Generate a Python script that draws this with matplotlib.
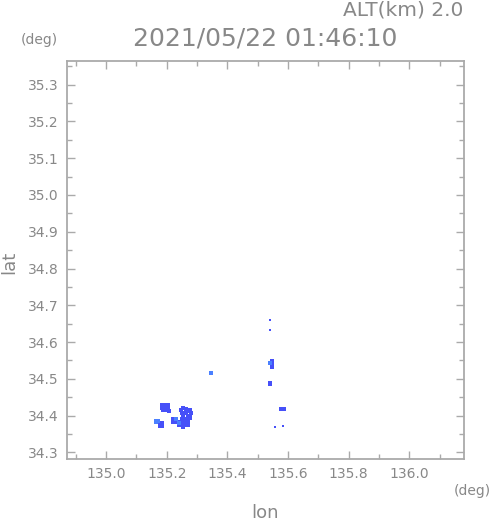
import matplotlib
matplotlib.use("Agg")
import matplotlib.pyplot as plt
from matplotlib.ticker import MultipleLocator

# ---- data (lon, lat of echo cells) ----
dark_lon = [135.183, 135.193, 135.203, 135.183, 135.193, 135.203, 135.188, 135.198, 135.208,
            135.178, 135.186, 135.178, 135.186,
            135.220, 135.250, 135.260, 135.270, 135.277,
            135.220, 135.230, 135.240, 135.250, 135.260, 135.270,
            135.240, 135.250, 135.260, 135.270, 135.255,
            135.255, 135.270, 135.278,
            135.250, 135.262, 135.280,
            135.247, 135.268, 135.277,
            135.253, 135.264,
            135.547, 135.547, 135.547,
            135.541, 135.541, 135.578, 135.587]
dark_lat = [34.430, 34.430, 34.428, 34.422, 34.422, 34.420, 34.414, 34.414, 34.412,
            34.379, 34.379, 34.373, 34.373,
            34.391, 34.391, 34.391, 34.391, 34.394,
            34.383, 34.383, 34.383, 34.383, 34.383, 34.383,
            34.375, 34.375, 34.375, 34.375, 34.369,
            34.399, 34.399, 34.399,
            34.407, 34.407, 34.407,
            34.415, 34.413, 34.415,
            34.422, 34.419,
            34.548, 34.540, 34.532,
            34.490, 34.486, 34.417, 34.418]
small_lon = [135.541, 135.542, 135.557, 135.584]
small_lat = [34.660, 34.633, 34.369, 34.371]
light_lon = [135.166, 135.166, 135.172, 135.230, 135.240, 135.346, 135.540]
light_lat = [34.386, 34.382, 34.386, 34.391, 34.379, 34.516, 34.543]

xlim = (134.870, 136.180)
ylim = (34.282, 35.363)
title = "2021/05/22 01:46:10"
alt_label = "ALT(km) 2.0"

txt = "#888888"
spine_c = "#aaaaaa"

fig = plt.figure(figsize=(4.91, 5.21), dpi=100)
ax = fig.add_axes([0.1358, 0.119, 0.809, 0.763])

ax.scatter(dark_lon, dark_lat, s=7, marker="s", c="#4650f8", linewidths=0)
ax.scatter(light_lon, light_lat, s=7, marker="s", c="#4a80ff", linewidths=0)
ax.scatter(small_lon, small_lat, s=3, marker="s", c="#4650f8", linewidths=0)

ax.set_xlim(*xlim)
ax.set_ylim(*ylim)
ax.xaxis.set_major_locator(MultipleLocator(0.2))
ax.xaxis.set_minor_locator(MultipleLocator(0.1))
ax.yaxis.set_major_locator(MultipleLocator(0.1))
ax.yaxis.set_minor_locator(MultipleLocator(0.05))
ax.xaxis.set_major_formatter(plt.FormatStrFormatter("%.1f"))
ax.yaxis.set_major_formatter(plt.FormatStrFormatter("%.1f"))

for s in ax.spines.values():
    s.set_color(spine_c)
    s.set_linewidth(1.3)

ax.tick_params(which="both", direction="in", top=True, right=True, color=spine_c,
               labelcolor=txt, labelsize=10)
ax.tick_params(which="major", length=6, width=1)
ax.tick_params(which="minor", length=3.5, width=1)
ax.tick_params(axis="y", pad=6)
ax.tick_params(axis="x", pad=6)

fig.text(265 / 491, 1 - 39 / 521, title, ha="center", va="center", fontsize=18, color=txt)
fig.text(463 / 491, 1 - 10 / 521, alt_label, ha="right", va="center", fontsize=14.5, color=txt)
fig.text(39 / 491, 1 - 40 / 521, "(deg)", ha="center", va="center", fontsize=10, color=txt)
fig.text(472 / 491, 1 - 491 / 521, "(deg)", ha="center", va="center", fontsize=10, color=txt)
fig.text(265 / 491, 1 - 513 / 521, "lon", ha="center", va="center", fontsize=13, color=txt)
fig.text(9 / 491, 1 - 262 / 521, "lat", ha="center", va="center", fontsize=13, color=txt,
         rotation=90)

fig.savefig("out.png", dpi=100)
